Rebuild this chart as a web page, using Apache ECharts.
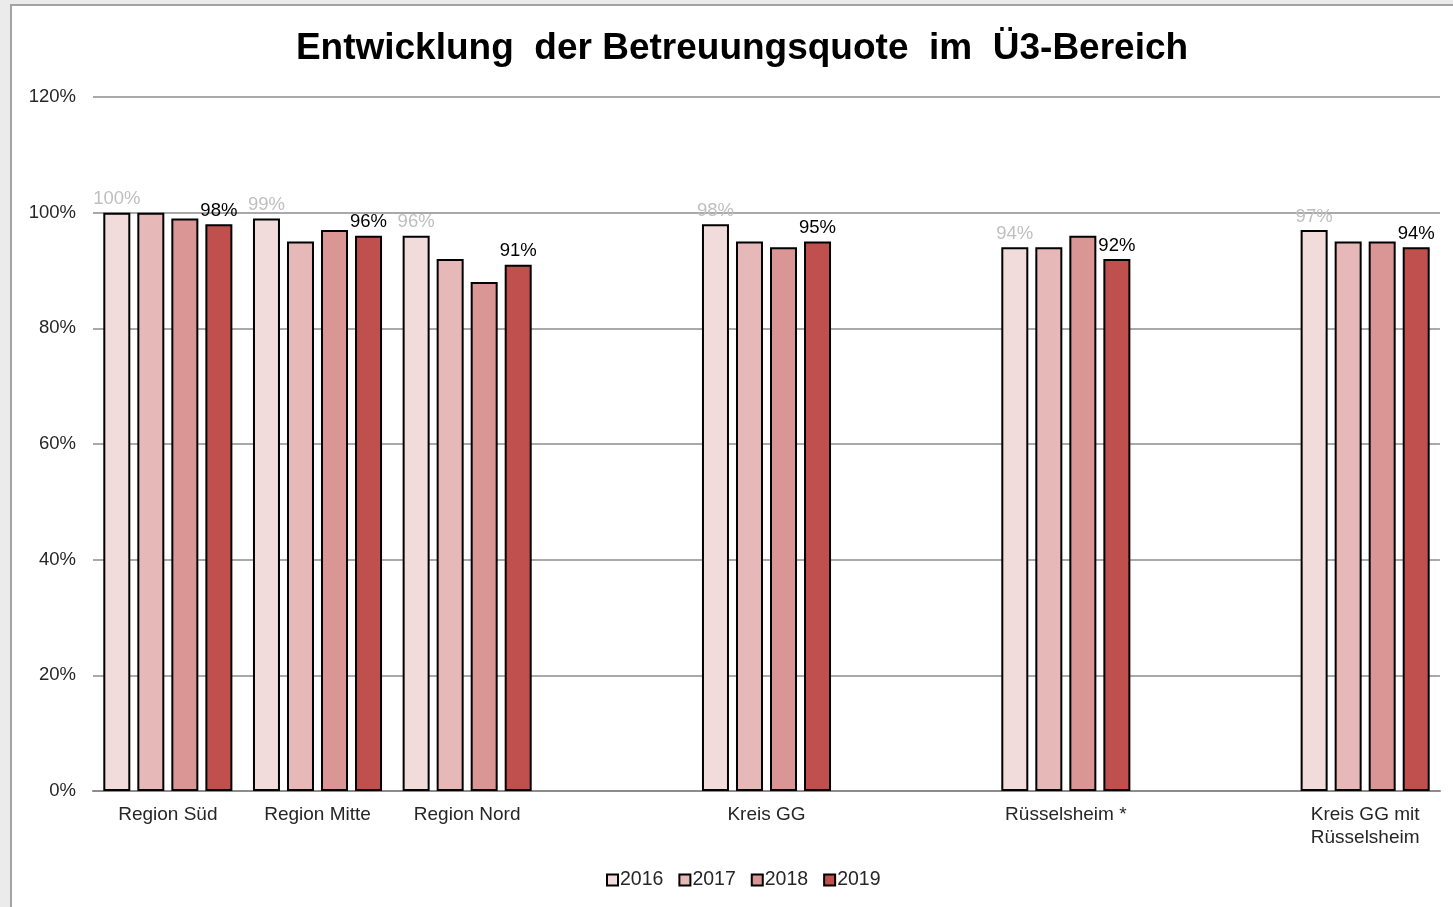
<!DOCTYPE html>
<html>
<head>
<meta charset="utf-8">
<script src="https://cdn.jsdelivr.net/npm/echarts@6/dist/echarts.min.js"></script>
<style>
  html, body { margin: 0; padding: 0; background: #ebebeb; overflow: hidden; }
  #frame {
    position: absolute; left: 10px; top: 4px;
    width: 1441px; height: 901px;
    border: 2px solid #a3a3a3; background: #fff;
  }
  #plot { width: 1441px; height: 901px; }
</style>
</head>
<body>
<div id="frame"><div id="plot"></div></div>
<script>
const categories = ['Region Süd', 'Region Mitte', 'Region Nord', '', 'Kreis GG', '', 'Rüsselsheim *', '', 'Kreis GG mit\nRüsselsheim'];
const years = ['2016', '2017', '2018', '2019'];
const values2016 = [100, 99, 96, null, 98, null, 94, null, 97];
const values2017 = [100, 95, 92, null, 95, null, 94, null, 95];
const values2018 = [99, 97, 88, null, 94, null, 96, null, 95];
const values2019 = [98, 96, 91, null, 95, null, 92, null, 94];
const yTicks = [0, 20, 40, 60, 80, 100, 120];

const colors = ['#f2dcdb', '#e6b9b8', '#d99694', '#c0504d'];
const font = '"Liberation Sans", Arial, sans-serif';

const chart = echarts.init(document.getElementById('plot'));

function barSeries(name, data, color, label) {
  return {
    name: name,
    type: 'bar',
    data: data,
    barWidth: 27,
    barGap: '26%',
    itemStyle: { color: color, borderColor: '#000', borderWidth: 2 },
    label: label,
    animation: false
  };
}

chart.setOption({
  textStyle: { fontFamily: font },
  title: {
    text: 'Entwicklung  der Betreuungsquote  im  Ü3-Bereich',
    left: 725,
    textAlign: 'center',
    top: 19,
    textStyle: { fontSize: 37, fontWeight: 'bold', color: '#000', fontFamily: font }
  },
  grid: { left: 81, right: 13, top: 91, bottom: 116 },
  xAxis: {
    type: 'category',
    data: categories,
    axisLine: { lineStyle: { color: '#8c8c8c', width: 2 } },
    axisTick: { show: false },
    axisLabel: { color: '#262626', fontSize: 19, margin: 12, lineHeight: 23, interval: 0 }
  },
  yAxis: {
    type: 'value',
    min: yTicks[0],
    max: yTicks[yTicks.length - 1],
    interval: 20,
    axisLine: { show: false },
    axisTick: { show: false },
    splitLine: { lineStyle: { color: '#8c8c8c', width: 1.5 } },
    axisLabel: { formatter: '{value}%', color: '#262626', fontSize: 18.5, margin: 17 }
  },
  legend: {
    data: years,
    bottom: 12,
    left: 589,
    icon: 'rect',
    itemWidth: 11,
    itemHeight: 11,
    itemGap: 15,
    itemStyle: { borderColor: '#000', borderWidth: 2 },
    textStyle: { fontSize: 19.5, color: '#262626', padding: [0, 0, 0, -3] }
  },
  series: [
    barSeries('2016', values2016, colors[0], { show: true, position: 'top', distance: 4, formatter: '{c}%', color: '#bfbfbf', fontSize: 18.5 }),
    barSeries('2017', values2017, colors[1], { show: false }),
    barSeries('2018', values2018, colors[2], { show: false }),
    barSeries('2019', values2019, colors[3], { show: true, position: 'top', distance: 4, formatter: '{c}%', color: '#000', fontSize: 18.5 })
  ]
});
</script>
</body>
</html>
